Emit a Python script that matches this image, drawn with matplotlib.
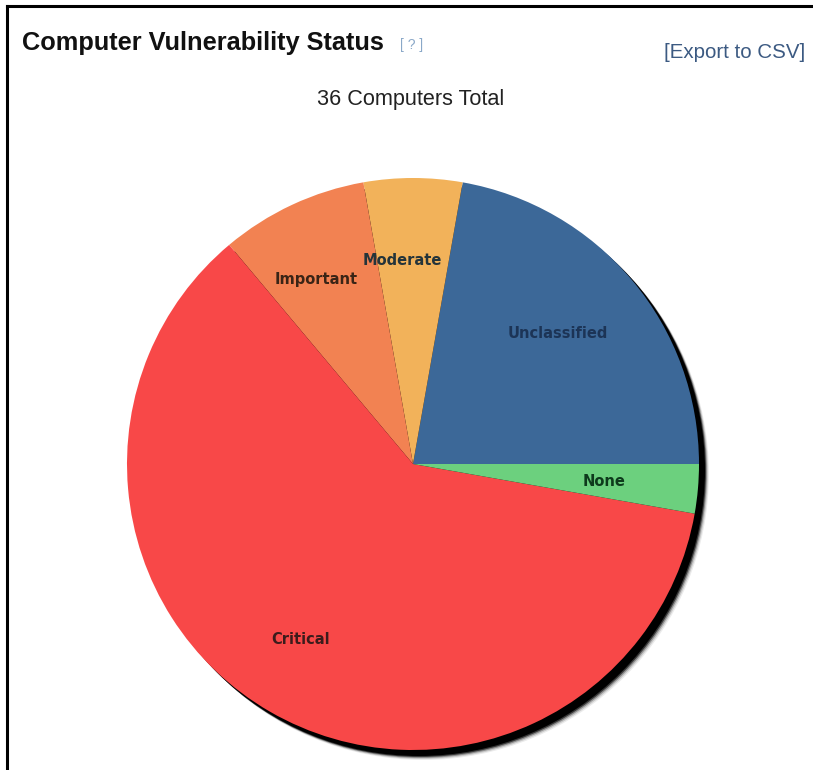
import matplotlib.pyplot as plt
from matplotlib.patches import Circle
from matplotlib.lines import Line2D

# computers per vulnerability class, counter-clockwise from 3 o'clock
labels = ['Unclassified', 'Moderate', 'Important', 'Critical', 'None']
counts = [8, 2, 3, 22, 1]
colors = ['#3c6898', '#f2b25a', '#f28252', '#f84848', '#6cd07e']
text_colors = ['#1c3456', '#24343a', '#3a2416', '#3c1c1c', '#0e3a1c']
total = sum(counts)

W, H = 813, 770
fig = plt.figure(figsize=(W / 100, H / 100), dpi=100)
ax = fig.add_axes([0, 0, 1, 1])

cx, cy, r = 413, H - 464, 286

# soft shadow to the lower right
for off, a in [(10, 0.08), (9, 0.15), (8, 0.3), (7, 0.6), (6, 1.0)]:
    ax.add_patch(Circle((cx + off, cy - off), r, color='black', alpha=a, lw=0, zorder=0))

wedges, texts = ax.pie(counts, labels=labels, colors=colors, startangle=0,
                       counterclock=True, center=(cx, cy), radius=r,
                       labeldistance=0.71, wedgeprops={'linewidth': 0, 'zorder': 1})
for t, c in zip(texts, text_colors):
    t.set_ha('center')
    t.set_va('center')
    t.set_x(t.get_position()[0] - 11)
    t.set_color(c)
    t.set_fontsize(10.5)
    t.set_fontweight('bold')
    t.set_family('DejaVu Sans')
    t.set_zorder(3)

ax.set_xlim(0, W)
ax.set_ylim(0, H)
ax.set_aspect('equal')
ax.axis('off')

# frame lines (left and top)
fig.add_artist(Line2D([7 / W, 7 / W], [0, 1 - 6 / H], color='black', lw=2.2))
fig.add_artist(Line2D([7 / W, 812 / W], [1 - 6 / H, 1 - 6 / H], color='black', lw=2.2))

fig.text(22 / W, 1 - 43 / H, 'Computer Vulnerability Status', fontsize=18.3,
         fontweight='bold', family='Liberation Sans', color='#111111', va='center')
fig.text(400 / W, 1 - 45 / H, '[ ? ]', fontsize=10, family='Liberation Sans',
         color='#8aa8c8', va='center')
fig.text(805 / W, 1 - 53 / H, '[Export to CSV]', fontsize=14.8,
         family='Liberation Sans', color='#3c5a82', va='center', ha='right')
fig.text(411 / W, 1 - 100 / H, f'{total} Computers Total', fontsize=15.6,
         family='Liberation Sans', color='#222222', va='center', ha='center')

fig.savefig('out.png', dpi=100)
